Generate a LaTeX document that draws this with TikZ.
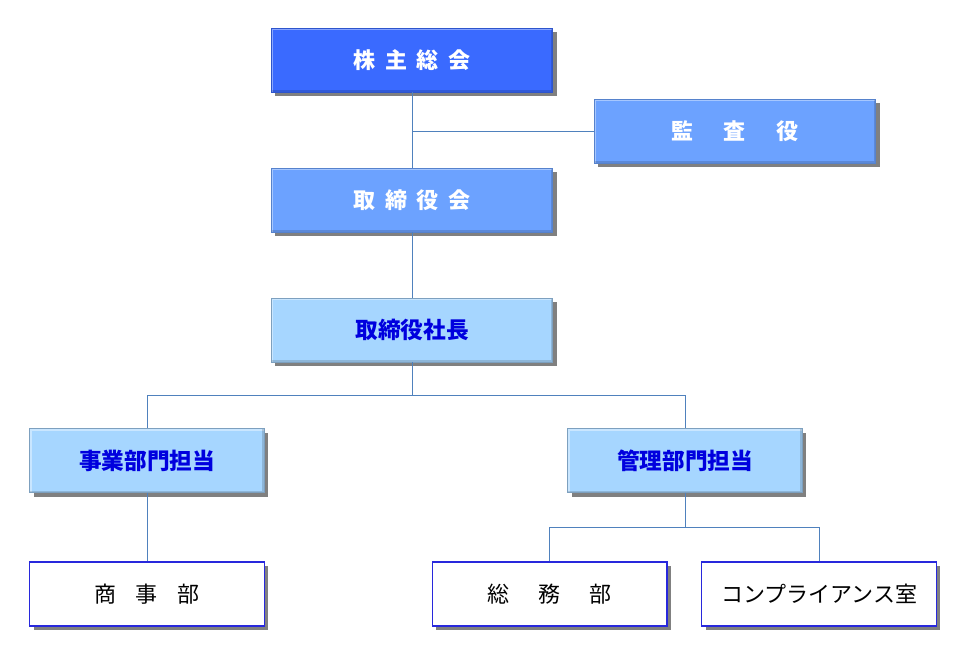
\documentclass[tikz,border=0pt]{standalone}
\usepackage{fontspec}
\setmainfont{Noto Sans CJK JP}
\usepackage{xcolor}
\usepackage{tikz}
\usetikzlibrary{shadows}

\definecolor{kabublue}{RGB}{58,106,255}
\definecolor{midblue}{RGB}{108,162,255}
\definecolor{paleblue}{RGB}{166,214,255}
\definecolor{inkblue}{RGB}{0,0,222}
\definecolor{linkblue}{RGB}{79,129,189}
\definecolor{framblue}{RGB}{40,40,220}

\tikzset{
  orgbox/.style={minimum width=211pt, minimum height=48pt, inner sep=0pt,
    drop shadow={shadow xshift=3pt, shadow yshift=-3pt, fill=gray, opacity=1}},
  bevel/.style={path picture={
    \draw[white, opacity=0.4, line width=3pt]
      (path picture bounding box.south west) -- (path picture bounding box.north west)
      -- (path picture bounding box.north east);
    \draw[black, opacity=0.15, line width=3pt]
      (path picture bounding box.north east) -- (path picture bounding box.south east)
      -- (path picture bounding box.south west);}},
  topbox/.style={orgbox, bevel, fill=kabublue, draw=kabublue!80!black, line width=0.4pt,
    text=white, font=\fontsize{16.5}{18}\selectfont\bfseries},
  midbox/.style={orgbox, bevel, fill=midblue, draw=midblue!80!black, line width=0.4pt,
    text=white, font=\fontsize{16.5}{18}\selectfont\bfseries},
  lightbox/.style={orgbox, bevel, fill=paleblue, draw=paleblue!75!black, line width=0.4pt,
    text=inkblue, font=\fontsize{17}{19}\selectfont\bfseries},
  plainbox/.style={orgbox, minimum width=176pt, fill=white, draw=framblue, line width=1pt,
    text=black, font=\fontsize{16.5}{18}\selectfont},
  link/.style={draw=linkblue, line width=0.6pt}
}

\begin{document}
\begin{tikzpicture}[x=0.75pt, y=-0.75pt]

\useasboundingbox (0,0) rectangle (970,659);

% Top level
\node[topbox] (kabu) at (412,60) {株\hspace{0.45em}主\hspace{0.45em}総\hspace{0.45em}会};
\node[midbox] (kansa) at (735,131.5) {監\hspace{1.4em}査\hspace{1.4em}役};
\node[midbox] (tori) at (412,200) {取\hspace{0.45em}締\hspace{0.45em}役\hspace{0.45em}会};
\node[lightbox] (shacho) at (412,330) {取締役社長};

% Divisions
\node[lightbox, minimum width=176pt] (jigyo) at (147,460.5) {事業部門担当};
\node[lightbox, minimum width=176pt] (kanri) at (685,460.5) {管理部門担当};

% Departments
\node[plainbox] (shoji) at (147,594) {商\hspace{0.9em}事\hspace{0.9em}部};
\node[plainbox] (somu) at (549.5,594) {総\hspace{1.3em}務\hspace{1.3em}部};
\node[plainbox] (comp) at (819,594) {コンプライアンス室};

% Connectors
\draw[link] (kabu.south) -- (tori.north);
\draw[link] (kansa.west) -- (kansa.west -| kabu.south);
\draw[link] (tori.south) -- (shacho.north);
\draw[link] (shacho.south) -- ++(0,33) -| (jigyo.north);
\draw[link] (shacho.south) -- ++(0,33) -| (kanri.north);
\draw[link] (jigyo.south) -- (shoji.north);
\draw[link] (kanri.south) -- ++(0,35) -| (somu.north);
\draw[link] (kanri.south) -- ++(0,35) -| (comp.north);

\end{tikzpicture}
\end{document}
